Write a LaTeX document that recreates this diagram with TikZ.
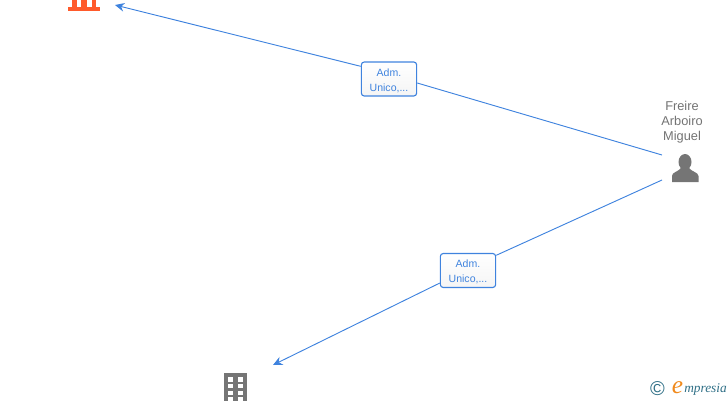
\documentclass[tikz,border=0pt]{standalone}
\usepackage{fontspec}
\setmainfont{Liberation Sans}
\newfontfamily\logofont{Liberation Serif}
\usetikzlibrary{arrows.meta, calc}
\definecolor{edgeblue}{HTML}{3F83DE}
\definecolor{iconred}{HTML}{FF5A2B}
\definecolor{icongray}{HTML}{757575}
\definecolor{logoteal}{HTML}{2F6F86}
\definecolor{logoorange}{HTML}{F08A1D}

\begin{document}
\begin{tikzpicture}[
    x=0.75pt, y=-0.75pt,
    >={Stealth[length=7pt, width=6.5pt]},
    role/.style={draw=edgeblue, line width=0.85pt, rounded corners=2.2pt, top color=white, bottom color=black!4,
        minimum width=41.5pt, minimum height=25.5pt, inner sep=0pt, align=center, text=edgeblue,
        font=\fontsize{7.9}{11.4}\selectfont},
    arr/.style={->, edgeblue, line width=0.7pt},
    link/.style={edgeblue, line width=0.7pt},
    personlabel/.style={align=center, text=black!55, font=\fontsize{9.6}{11.2}\selectfont},
    window/.style={fill=white},
]
\clip (0,0) rectangle (728,400);
\useasboundingbox (0,0) rectangle (728,400);

% === Anchor points ===
\coordinate (person_in) at (662,155);
\coordinate (person_out) at (662,180);
\coordinate (red_tip) at (115,5);
\coordinate (gray_tip) at (273,365);

% === Role boxes ===
\node[role] at (389,79) (role_a) {\rule{0pt}{8pt}Adm.\\Unico,...};
\node[role] at (468,270.5) (role_b) {\rule{0pt}{8pt}Adm.\\Unico,...};

% === Edges ===
\draw[link] (person_in) -- ([yshift=-3pt]role_a.east);
\draw[arr] ([yshift=9.5pt]role_a.west) -- (red_tip);
\draw[link] (person_out) -- ([yshift=11.4pt]role_b.east);
\draw[arr] ([yshift=-9.4pt]role_b.west) -- (gray_tip);

% === Person ===
\node[personlabel] at (682,122) (person_label) {Freire\\Arboiro\\Miguel};
\fill[icongray] (685,162) ellipse (6.5 and 8);
\fill[icongray] (672,182) -- (672,176) .. controls (672,172) and (678,172) .. (681,168)
    -- (689,168) .. controls (692,172) and (698,172) .. (698.5,176) -- (698.5,182) -- cycle;

% === Red building, cut by the top edge ===
\fill[iconred] (68,7) rectangle (100,11);
\fill[iconred] (72,-4) rectangle (96,8);
\fill[window] (76.5,0) rectangle (81,6.5);
\fill[window] (86.5,0) rectangle (91.5,6.5);

% === Gray building, cut by the bottom edge ===
\fill[icongray] (224,373) rectangle (247,404);
\foreach \wy in {377,383.8,390.6,397.4}
    \foreach \wx in {227.8,238}
        \fill[window] (\wx,\wy) rectangle ++(5,4.6);

% === Logo ===
\node[text=logoteal, font=\fontsize{15}{15}\selectfont] at (657.5,388.5) (logo_c) {©};
\node[text=logoorange, font=\logofont\itshape\fontsize{19}{19}\selectfont] at (677.5,388) (logo_e) {e};
\node[text=logoteal, anchor=west, inner sep=0pt, font=\logofont\itshape\fontsize{10}{10}\selectfont] at (684,389.5) (logo_t) {mpresia};
\end{tikzpicture}
\end{document}
